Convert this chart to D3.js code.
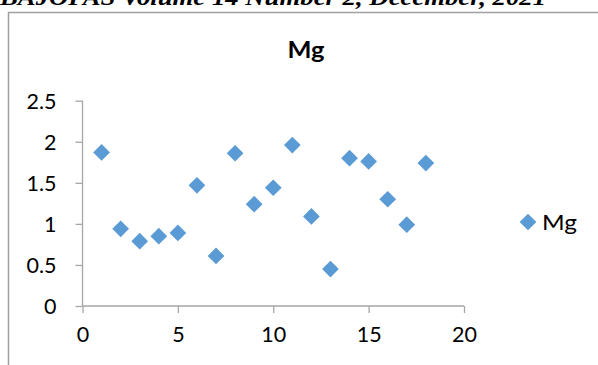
<!DOCTYPE html>
<html>
<head>
<meta charset="utf-8">
<script src="https://cdn.jsdelivr.net/npm/d3@7"></script>
<style>
  body { margin: 0; background: #fff; }
  svg { display: block; }
  .tick text { font-family: Lato, "Noto Sans", sans-serif; font-size: 21.5px; fill: #000; }
</style>
</head>
<body>
<svg width="598" height="365"></svg>
<script>
'use strict';

var sample = [1, 2, 3, 4, 5, 6, 7, 8, 9, 10, 11, 12, 13, 14, 15, 16, 17, 18],
    mg = [1.87, 0.94, 0.79, 0.85, 0.89, 1.47, 0.61, 1.86, 1.24, 1.44, 1.96, 1.09, 0.45, 1.80, 1.76, 1.30, 0.99, 1.74],
    xTicks = [0, 5, 10, 15, 20],
    yTicks = [0, 0.5, 1, 1.5, 2, 2.5],
    seriesName = 'Mg';

var svg = d3.select('svg'),
    blue = '#5B9BD5',
    axisGrey = '#A6A6A6';

var x = d3.scaleLinear().domain([0, 20]).range([82.5, 464]),
    y = d3.scaleLinear().domain([0, 2.5]).range([306, 100.7]);

// journal header, cut at the top of the page
svg.append('text')
    .attr('x', 0)
    .attr('y', 5)
    .attr('textLength', 546)
    .attr('lengthAdjust', 'spacingAndGlyphs')
    .style('font-family', '"Liberation Serif", serif')
    .style('font-weight', 'bold')
    .style('font-style', 'italic')
    .style('font-size', '23px')
    .text('BAJOPAS Volume 14 Number 2, December, 2021');

// chart frame
svg.append('path')
    .attr('d', 'M8.5,365 V12.5 H598')
    .attr('fill', 'none')
    .attr('stroke', '#A0A0A0')
    .attr('stroke-width', 1.5);

// title
svg.append('text')
    .attr('x', 306)
    .attr('y', 58)
    .attr('text-anchor', 'middle')
    .attr('textLength', 37)
    .attr('lengthAdjust', 'spacingAndGlyphs')
    .style('font-family', 'Lato, "Noto Sans", sans-serif')
    .style('font-weight', 'bold')
    .style('font-size', '23px')
    .text(seriesName);

// axes
var yAxis = svg.append('g')
    .attr('transform', 'translate(' + x(0) + ',0)')
    .call(d3.axisLeft(y).tickValues(yTicks).tickSize(7).tickPadding(19)
        .tickFormat(d3.format('')));

var xAxis = svg.append('g')
    .attr('transform', 'translate(0,' + y(0) + ')')
    .call(d3.axisBottom(x).tickValues(xTicks).tickSize(7).tickPadding(14));

[xAxis, yAxis].forEach(function (g) {
    g.select('.domain').attr('stroke', axisGrey).attr('stroke-width', 1.3);
    g.selectAll('.tick line').attr('stroke', axisGrey).attr('stroke-width', 1.3);
});
xAxis.select('.domain').attr('d', 'M' + x(0) + ',0H' + x(20));
yAxis.select('.domain').attr('d', 'M0,' + y(2.5) + 'V' + y(0));
yAxis.selectAll('.tick text').attr('dy', '0.36em');

// points
var diamond = d3.symbol().type(d3.symbolSquare).size(140);

svg.append('g').selectAll('path')
    .data(sample)
    .enter().append('path')
    .attr('d', diamond)
    .attr('fill', blue)
    .attr('transform', function (d, i) {
        return 'translate(' + x(d) + ',' + y(mg[i]) + ') rotate(45)';
    });

// legend
var legend = svg.append('g').attr('transform', 'translate(528,222)');
legend.append('path')
    .attr('d', diamond)
    .attr('fill', blue)
    .attr('transform', 'rotate(45)');
legend.append('text')
    .attr('x', 14)
    .attr('y', 7.5)
    .attr('textLength', 35)
    .attr('lengthAdjust', 'spacingAndGlyphs')
    .style('font-family', 'Lato, "Noto Sans", sans-serif')
    .style('font-size', '22px')
    .text(seriesName);
</script>
</body>
</html>
